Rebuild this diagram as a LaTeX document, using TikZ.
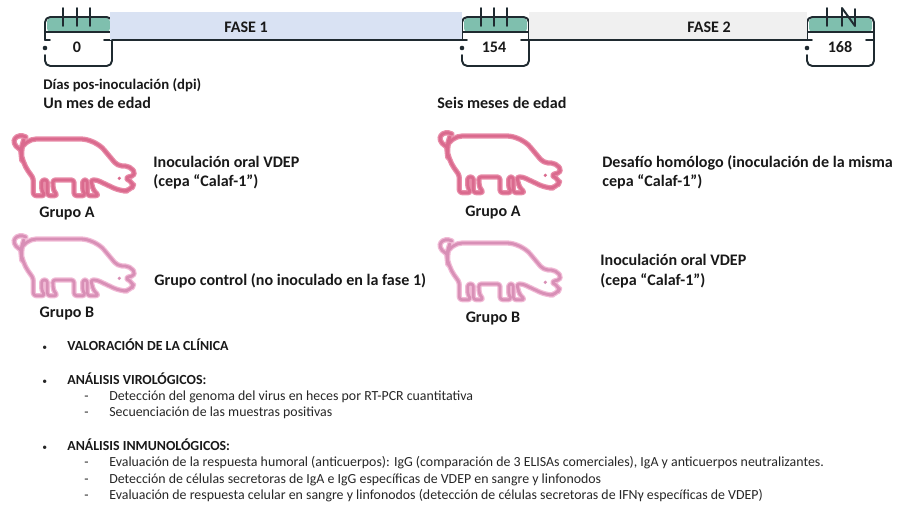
\documentclass[tikz,border=0pt]{standalone}
\usepackage{fontspec}
\setmainfont{Carlito}
\definecolor{tealtop}{HTML}{7FBFAE}
\definecolor{fasea}{HTML}{D9E2F3}
\definecolor{faseb}{HTML}{F0F0F0}
\definecolor{linecal}{HTML}{1F2A30}
\definecolor{pigAcore}{HTML}{DA6A8E}
\definecolor{pigAhalo}{HTML}{E88DA9}
\definecolor{pigBcore}{HTML}{D88FB6}
\definecolor{pigBhalo}{HTML}{F1BBD6}
\tikzset{
  txtbig/.style={anchor=west,inner sep=0pt,text height=1.75ex,text depth=.4ex,font=\fontsize{9.15}{11}\selectfont\bfseries,text=black!90},
  txtdpi/.style={txtbig,font=\fontsize{8.4}{10}\selectfont\bfseries},
  txthead/.style={anchor=west,inner sep=0pt,text height=1.75ex,text depth=.4ex,font=\fontsize{7.9}{9}\selectfont\bfseries,text=black!90},
  txtsub/.style={anchor=west,inner sep=0pt,text height=1.75ex,text depth=.4ex,font=\fontsize{7.9}{9}\selectfont,text=black!85},
  txtmark/.style={txtsub,font=\fontsize{5.5}{7}\selectfont},
  grupo/.style={txtbig,anchor=center},
  calline/.style={draw=linecal,line width=1.1pt,line cap=round,line join=round},
  pics/calendar/.style={code={
    \fill[tealtop,rounded corners=2pt] (2,1) rectangle (65,15);
    \draw[calline,rounded corners=3pt] (0,23) -- (0,0) -- (67,0) -- (67,49) -- (0,49) -- (0,38);
    \draw[calline] (0,15) -- (67,15);
    \draw[calline] (0,23) -- (5,23);
    \draw[calline] (59,23) -- (67,23);
    \fill[linecal] (0,31) circle (1.3pt);
    \coordinate (-w) at (0,23);
    \coordinate (-e) at (67,23);
  }},
  pics/pig/.style 2 args={code={
    \begin{scope}[scale=0.3333]
    \foreach \c/\w in {#2/3pt,#1/1.6pt}{
    \draw[\c,line width=\w,line cap=round,line join=round]
      (180,42) [rounded corners=8pt] -- (285,42) [rounded corners=2.5pt] -- (352,122) -- (390,124)
      [rounded corners=3pt] -- (410,150) -- (372,159) -- (403,174) [rounded corners=4pt] -- (392,198) -- (360,198)
      [rounded corners=1.5pt] -- (290,165) -- (272,165) -- (280,195) -- (296,212) -- (262,212) -- (262,165)
      -- (248,165) -- (248,195) -- (256,212) -- (222,212) -- (222,165) -- (158,165) -- (160,195) -- (172,212)
      -- (142,212) -- (142,165) -- (125,165) -- (125,195) -- (135,212) -- (100,212) -- (100,160)
      [rounded corners=6pt] -- (66,112) -- (62,75) [rounded corners=7pt] -- (72,42) -- cycle;
    \draw[\c,line width=\w,line cap=round]
      (78,36) .. controls (50,22) and (25,50) .. (58,72);
    }
    \fill[#1] (358,160) circle (3pt);
    \end{scope}
  }}
}
\begin{document}
\begin{tikzpicture}[x=0.02cm,y=-0.02cm]
\useasboundingbox (0,0) rectangle (900,513);
% calendars
\pic (calA) at (45,17) {calendar};
\pic (calB) at (462,17) {calendar};
\pic (calC) at (807,17) {calendar};
% phases
\fill[fasea] (110,12) rectangle (462,40);
\fill[faseb] (529,12) rectangle (807,40);
\draw[calline] (calA-e) -- (calB-w);
\draw[calline] (calB-e) -- (calC-w);
\foreach \x in {63,77,90,481,494,507,827}
 \draw[calline] (\x,8) -- (\x,26);
\draw[calline] (842,26) -- (842,8) -- (855,26) -- (855,9);
\node[grupo] (fase1) at (246,27) {FASE 1};
\node[grupo] (fase2) at (709,27) {FASE 2};
\node[grupo] (day0) at (77,47) {0};
\node[grupo] (day154) at (494,47) {154};
\node[grupo] (day168) at (840,47) {168};
\node[txtdpi] (dpi) at (43,84) {Días pos-inoculación (dpi)};
\node[txtbig] (edadA) at (43,103) {Un mes de edad};
\node[txtbig] (edadB) at (437,103) {Seis meses de edad};
% pigs
\pic at (0,125) {pig={pigAcore}{pigAhalo}};
\pic at (0,225) {pig={pigBcore}{pigBhalo}};
\pic at (426,122) {pig={pigAcore}{pigAhalo}};
\pic at (426,229) {pig={pigBcore}{pigBhalo}};
\node[grupo] (grupoA1) at (67,212) {Grupo A};
\node[grupo] (grupoB1) at (67,312) {Grupo B};
\node[grupo] (grupoA2) at (493,211) {Grupo A};
\node[grupo] (grupoB2) at (493,317) {Grupo B};
\foreach \n/\x/\y/\t in {
 a/153/162/{Inoculación oral VDEP},
 b/153/181/{(cepa “Calaf-1”)},
 c/154/280/{Grupo control (no inoculado en la fase 1)},
 d/602/162/{Desafío homólogo (inoculación de la misma},
 e/602/181/{cepa “Calaf-1”)},
 f/600/260/{Inoculación oral VDEP},
 g/600/280/{(cepa “Calaf-1”)}}
 \node[txtbig] (info\n) at (\x,\y) {\t};
% lists
\foreach \n/\y/\t in {
 a/345/{VALORACIÓN DE LA CLÍNICA},
 b/379/{ANÁLISIS VIROLÓGICOS:},
 c/445/{ANÁLISIS INMUNOLÓGICOS:}}{
 \node[txthead] (head\n) at (67,\y) {\t};
 \node[txtmark] (bullet\n) at (42,\y) {•};
}
\foreach \n/\y/\t in {
 a/395/{Detección del genoma del virus en heces por RT-PCR cuantitativa},
 b/411/{Secuenciación de las muestras positivas},
 c/461/{Evaluación de la respuesta humoral (anticuerpos): IgG (comparación de 3 ELISAs comerciales), IgA y anticuerpos neutralizantes.},
 d/478/{Detección de células secretoras de IgA e IgG específicas de VDEP en sangre y linfonodos},
 e/494/{Evaluación de respuesta celular en sangre y linfonodos (detección de células secretoras de IFNγ específicas de VDEP)}}{
 \node[txtsub] (sub\n) at (109,\y) {\t};
 \node[txtsub] (dash\n) at (84,\y) {-};
}
\end{tikzpicture}
\end{document}
